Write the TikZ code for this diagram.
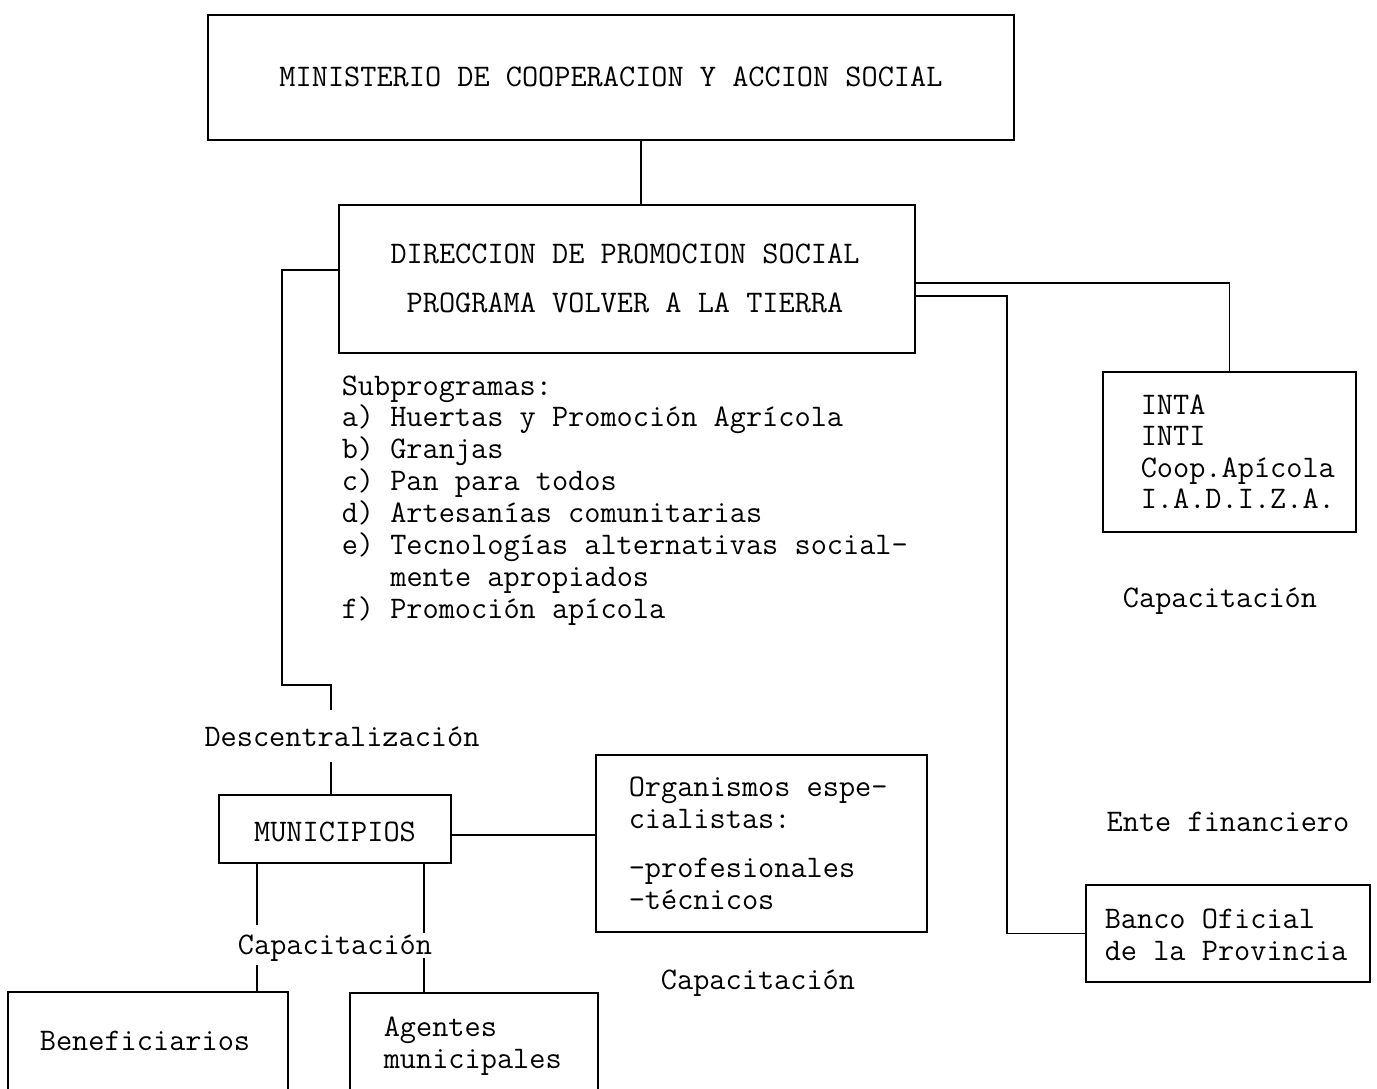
\documentclass[tikz,border=0pt]{standalone}
\usepackage{fontspec}
\usetikzlibrary{calc}
\begin{document}
\frenchspacing
\begin{tikzpicture}[x=1pt,y=-1pt,line width=1.6pt,
  box/.style={draw,inner sep=0pt,line width=1.6pt},
  ln/.style={inner sep=0pt,anchor=base west,font=\ttfamily\fontsize{31.4}{32}\selectfont},
  lc/.style={inner sep=0pt,anchor=base,font=\ttfamily\fontsize{31.4}{32}\selectfont}]
\useasboundingbox (0,0) rectangle (1377,1088);
\clip (0,0) rectangle (1377,1088);
\fill[white] (0,0) rectangle (1377,1088);
% boxes
\node[box,minimum width=806pt,minimum height=125pt] (minis) at (611,77.5) {};
\node[box,minimum width=576pt,minimum height=148pt] (dir) at (627,279) {};
\node[box,minimum width=253pt,minimum height=160pt] (inta) at (1229.5,452) {};
\node[box,minimum width=284pt,minimum height=97pt] (banco) at (1228,933.5) {};
\node[box,minimum width=331pt,minimum height=177pt] (org) at (761.5,843.5) {};
\node[box,minimum width=232pt,minimum height=68pt] (muni) at (335,829) {};
\node[box,minimum width=280pt,minimum height=108pt] (benef) at (148,1046) {};
\node[box,minimum width=248pt,minimum height=107pt] (agent) at (474,1046.5) {};
% texts
\node[lc] (tminis) at (611,86.5) {MINISTERIO DE COOPERACION Y ACCION SOCIAL};
\node[lc] (tdir1) at (625,263.5) {DIRECCION DE PROMOCION SOCIAL};
\node[lc] (tdir2) at (625,312.5) {PROGRAMA VOLVER A LA TIERRA};
\foreach \t [count=\i] in {Subprogramas:,a) Huertas y Promoción Agrícola,b) Granjas,c) Pan para todos,d) Artesanías comunitarias,e) Tecnologías alternativas social-,\hspace*{48.6pt}mente apropiados,f) Promoción apícola}
  \node[ln] (sub\i) at (341,{395+(\i-1)*31.86}) {\t};
\foreach \t [count=\i] in {INTA,INTI,Coop.Apícola,I.A.D.I.Z.A.}
  \node[ln] (tinta\i) at (1140,{414.5+(\i-1)*31.3}) {\t};
\node[lc] (capa1) at (1220,607) {Capacitación};
\node[lc] (ente) at (1228,831) {Ente financiero};
\node[ln] (tbanco1) at (1104,928) {Banco Oficial};
\node[ln] (tbanco2) at (1104,960) {de la Provincia};
\node[ln] (torg1) at (628,796) {Organismos espe-};
\node[ln] (torg2) at (628,828) {cialistas:};
\node[ln] (torg3) at (628,877) {-profesionales};
\node[ln] (torg4) at (628,909) {-técnicos};
\node[lc] (tmuni) at (335,841.5) {MUNICIPIOS};
\node[lc] (desc) at (342,746) {Descentralización};
\node[lc] (capa2) at (335,954) {Capacitación};
\node[lc] (tbenef) at (145,1050) {Beneficiarios};
\node[ln] (tagent1) at (383,1036) {Agentes};
\node[ln] (tagent2) at (383,1068) {municipales};
\node[lc] (capa3) at (758,989) {Capacitación};
% connectors
\draw ($(minis.south)+(30,0)$) -- ($(dir.north)+(14,0)$);
\coordinate (k0) at (282,685);
\coordinate (k1) at (331,710);
\coordinate (k2) at (331,762);
\draw ($(dir.west)+(0,-9)$) -| (k0) -| (k1);
\draw (k2) -- (k2 |- muni.north);
\draw ($(dir.east)+(0,4)$) -| (inta.north);
\coordinate (k3) at (1007,933.5);
\draw ($(dir.east)+(0,17)$) -| (k3) -- (banco.west);
\draw ($(muni.east)+(0,6)$) -- ($(org.west)+(0,-8.5)$);
\coordinate (k4) at (257,925);
\coordinate (k5) at (257,965);
\draw ($(muni.south)+(-78,0)$) -- (k4);
\draw (k5) -- (k5 |- benef.north);
\coordinate (k6) at (424,933);
\coordinate (k7) at (424,958);
\draw ($(muni.south)+(89,0)$) -- (k6);
\draw (k7) -- (k7 |- agent.north);
\end{tikzpicture}
\end{document}
